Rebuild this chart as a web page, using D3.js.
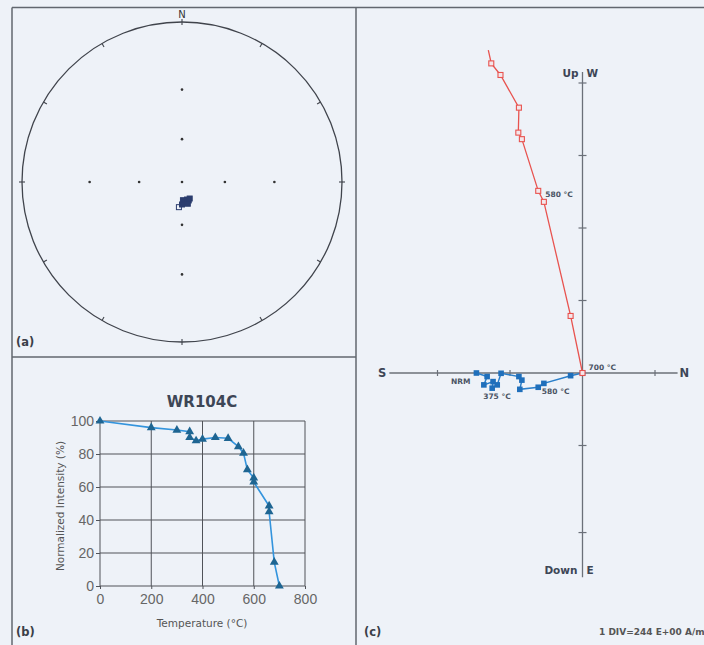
<!DOCTYPE html>
<html><head><meta charset="utf-8">
<script src="https://cdn.jsdelivr.net/npm/d3@7"></script>
<style>body{margin:0;background:#eef2f8;}svg{display:block;}</style>
</head><body><div id="chart"></div>
<script>
// ---------- DATA ----------
// (a) stereonet directions
const stereoDec = [177, 164, 160, 172, 180, 165, 155, 187];
const stereoInc = [77, 77, 76, 75, 74, 74, 77, -72];
const gridInc = [30, 60];
const gridDirs = [0, 90, 180, 270];

// (b) demagnetization curve
const demagTemp = [0, 200, 300, 350, 350, 375, 400, 450, 500, 540, 560, 575, 600, 600, 660, 660, 680, 700];
const demagInt  = [100, 96, 94.5, 93.5, 90, 88, 89, 90, 89.5, 84.5, 80.5, 70.5, 65.5, 63, 48.5, 45, 14.5, 0];
const demagXTicks = [0, 200, 400, 600, 800];
const demagYTicks = [0, 20, 40, 60, 80, 100];

// (c) Zijderveld (A/m)
const vertN  = [-317, -307, -276, -214, -216, -204, -149, -130, -40, 0];
const vertUp = [1087, 1042, 1003, 893, 809, 787, 613, 576, 192, 0];
const horN   = [-357, -321, -332, -301, -304, -287, -274, -214, -204, -211, -149, -130, -40, 0];
const horE   = [0, 12, 40, 29, 51, 40, 1, 12, 24, 55, 48, 35, 9, 0];
const zDiv = 244;
const zHTicks = [-488, -244, 244];
const zVTicks = [976, 732, 488, 244, -244, -537];

// ---------- DRAW ----------
const W = 704, H = 645;
const svg = d3.select("#chart").append("svg").attr("width", W).attr("height", H);
svg.append("rect").attr("width", W).attr("height", H).attr("fill", "#eef2f8");

const frame = "#62676f";
[[12,7.5,704,7.5],[12,7.5,12,645],[356,7.5,356,645],[12,357,356,357]].forEach(l=>{
  svg.append("line").attr("x1",l[0]).attr("y1",l[1]).attr("x2",l[2]).attr("y2",l[3])
    .attr("stroke",frame).attr("stroke-width",1.5);
});

const panelLab = (t,x,y)=>svg.append("text").attr("x",x).attr("y",y).text(t)
  .attr("font-family","DejaVu Sans").attr("font-weight","bold").attr("font-size",11.5).attr("fill","#3a3f48");
panelLab("(a)",16,346); panelLab("(b)",16,636); panelLab("(c)",364,636);

// ----- (a) stereonet -----
const cx = 182, cy = 182, R = 160;
const rScale = d3.scaleLinear().domain([0,1]).range([0,R]);
const rad = d => d*Math.PI/180;
function proj(dec, inc){
  const r = rScale(Math.tan(rad((90-Math.abs(inc))/2)));
  return [cx + r*Math.sin(rad(dec)), cy - r*Math.cos(rad(dec))];
}
const gA = svg.append("g");
gA.append("circle").attr("cx",cx).attr("cy",cy).attr("r",R).attr("fill","none")
  .attr("stroke","#40444c").attr("stroke-width",1.3);
d3.range(0,360,30).forEach(a=>{
  const card = a%90===0;
  const r1 = card? R-3 : R-4, r2 = card? R+3 : R;
  gA.append("line")
    .attr("x1",cx+r1*Math.sin(rad(a))).attr("y1",cy-r1*Math.cos(rad(a)))
    .attr("x2",cx+r2*Math.sin(rad(a))).attr("y2",cy-r2*Math.cos(rad(a)))
    .attr("stroke","#40444c").attr("stroke-width",1.1);
});
gA.append("text").attr("x",cx).attr("y",17.5).attr("text-anchor","middle").text("N")
  .attr("font-family","DejaVu Sans").attr("font-size",10).attr("fill","#333");
const gridPts = [[0,90]];
gridDirs.forEach(d=>gridInc.forEach(i=>gridPts.push([d,i])));
gA.selectAll("circle.g").data(gridPts).join("circle").attr("class","g")
  .attr("cx",d=>proj(d[0],d[1])[0]).attr("cy",d=>proj(d[0],d[1])[1]).attr("r",1.3).attr("fill","#333");
const sPts = stereoDec.map((d,i)=>({dec:d, inc:stereoInc[i]}));
gA.selectAll("rect.p").data(sPts).join("rect").attr("class","p")
  .attr("x",d=>proj(d.dec,d.inc)[0]-2.5).attr("y",d=>proj(d.dec,d.inc)[1]-2.5)
  .attr("width",5).attr("height",5)
  .attr("fill",d=>d.inc>=0?"#2b3d6e":"none").attr("stroke","#2b3d6e").attr("stroke-width",1);

// ----- (b) demag curve -----
const xB = d3.scaleLinear().domain([0,800]).range([100,305]);
const yB = d3.scaleLinear().domain([0,100]).range([586,421]);
const gB = svg.append("g");
const gridC = "#505359";
demagXTicks.forEach(t=>gB.append("line").attr("x1",xB(t)).attr("x2",xB(t)).attr("y1",yB(0)).attr("y2",yB(100))
  .attr("stroke",gridC).attr("stroke-width",1));
demagYTicks.forEach(t=>gB.append("line").attr("x1",xB(0)).attr("x2",xB(800)).attr("y1",yB(t)).attr("y2",yB(t))
  .attr("stroke",gridC).attr("stroke-width",1));
const axL = gB.append("g").attr("transform",`translate(${xB(0)},0)`)
  .call(d3.axisLeft(yB).tickValues(demagYTicks).tickSize(4).tickPadding(2));
const axB = gB.append("g").attr("transform",`translate(0,${yB(0)})`)
  .call(d3.axisBottom(xB).tickValues(demagXTicks).tickSize(3).tickPadding(5));
[axL,axB].forEach(a=>{
  a.select(".domain").remove();
  a.selectAll("line").attr("stroke",gridC);
  a.selectAll("text").attr("font-family","Liberation Sans").attr("font-size",14).attr("fill","#666");
});
gB.append("text").attr("x",202).attr("y",407).attr("text-anchor","middle").text("WR104C")
  .attr("font-family","DejaVu Sans").attr("font-weight","bold").attr("font-size",15).attr("fill","#3d4656");
gB.append("text").attr("x",202).attr("y",627).attr("text-anchor","middle").text("Temperature (°C)")
  .attr("font-family","DejaVu Sans").attr("font-size",10.5).attr("fill","#555");
gB.append("text").attr("transform","translate(64,506) rotate(-90)").attr("text-anchor","middle")
  .text("Normalized Intensity (%)").attr("font-family","DejaVu Sans").attr("font-size",10.5).attr("fill","#555");
const demag = demagTemp.map((t,i)=>({t, v:demagInt[i]}));
gB.append("path").datum(demag).attr("fill","none").attr("stroke","#3394dd").attr("stroke-width",1.6)
  .attr("d",d3.line().x(d=>xB(d.t)).y(d=>yB(d.v)));
gB.selectAll("path.tri").data(demag).join("path").attr("class","tri")
  .attr("transform",d=>`translate(${xB(d.t)},${yB(d.v)})`)
  .attr("d",d3.symbol(d3.symbolTriangle).size(34)).attr("fill","#1e6592");

// ----- (c) Zijderveld -----
const xZ = d3.scaleLinear().domain([0,zDiv]).range([582.5,655]);
const yZ = d3.scaleLinear().domain([0,zDiv]).range([373,300.5]);
const gC = svg.append("g");
const axC = "#6b7079";
gC.append("line").attr("x1",xZ(-650)).attr("x2",xZ(320)).attr("y1",yZ(0)).attr("y2",yZ(0))
  .attr("stroke",axC).attr("stroke-width",1.3);
gC.append("line").attr("x1",xZ(0)).attr("x2",xZ(0)).attr("y1",yZ(1013)).attr("y2",yZ(-687))
  .attr("stroke",axC).attr("stroke-width",1.3);
zHTicks.forEach(t=>gC.append("line").attr("x1",xZ(t)).attr("x2",xZ(t)).attr("y1",yZ(0)-3).attr("y2",yZ(0)+3)
  .attr("stroke",axC).attr("stroke-width",1.2));
zVTicks.forEach(t=>gC.append("line").attr("x1",xZ(0)-4).attr("x2",xZ(0)+4).attr("y1",yZ(t)).attr("y2",yZ(t))
  .attr("stroke",axC).attr("stroke-width",1.2));
const lab = (t,x,y,anchor,size)=>gC.append("text").attr("x",x).attr("y",y).attr("text-anchor",anchor||"start")
  .text(t).attr("font-family","DejaVu Sans").attr("font-weight","bold").attr("font-size",size||11).attr("fill","#3d4656");
lab("S", xZ(-650)-3, yZ(0)+4, "end", 11.5);
lab("N", xZ(320)+2, yZ(0)+4, "start", 11.5);
lab("Up", xZ(0)-4, 77, "end", 10.5);
lab("W", xZ(0)+4, 77, "start", 10.5);
lab("Down", xZ(0)-5, 574, "end", 10.5);
lab("E", xZ(0)+4, 574, "start", 10.5);

const hor = horN.map((n,i)=>({x:xZ(n), y:yZ(-horE[i])}));
const ver = vertN.map((n,i)=>({x:xZ(n), y:yZ(vertUp[i])}));
const ln = d3.line().x(d=>d.x).y(d=>d.y);
gC.append("path").datum(hor).attr("d",ln).attr("fill","none").attr("stroke","#2a7fca").attr("stroke-width",1.5);
gC.selectAll("rect.h").data(hor).join("rect").attr("class","h")
  .attr("x",d=>d.x-2.8).attr("y",d=>d.y-2.8).attr("width",5.6).attr("height",5.6).attr("fill","#1f6fbb");
gC.append("path").datum(ver).attr("d",ln).attr("fill","none").attr("stroke","#e8534f").attr("stroke-width",1.3);
gC.selectAll("rect.v").data(ver.slice(1)).join("rect").attr("class","v")
  .attr("x",d=>d.x-2.5).attr("y",d=>d.y-2.5).attr("width",5).attr("height",5)
  .attr("fill","#f4e6ea").attr("stroke","#e8534f").attr("stroke-width",1.1);

const tl = (t,p,dx,dy,anchor)=>gC.append("text").attr("x",p.x+dx).attr("y",p.y+dy).attr("text-anchor",anchor||"start")
  .text(t).attr("font-family","DejaVu Sans").attr("font-weight","bold").attr("font-size",7.5).attr("fill","#4a5464");
tl("NRM", hor[0], -6, 11, "end");
tl("375 °C", hor[4], -9, 11, "start");
tl("580 °C", hor[11], -2, 11, "start");
tl("700 °C", hor[13], 6, -3, "start");
tl("580 °C", ver[6], 7, 6, "start");

svg.append("text").attr("x",599).attr("y",635).text("1 DIV=244 E+00 A/m")
  .attr("font-family","DejaVu Sans").attr("font-weight","bold").attr("font-size",9).attr("fill","#555");
</script></body></html>
